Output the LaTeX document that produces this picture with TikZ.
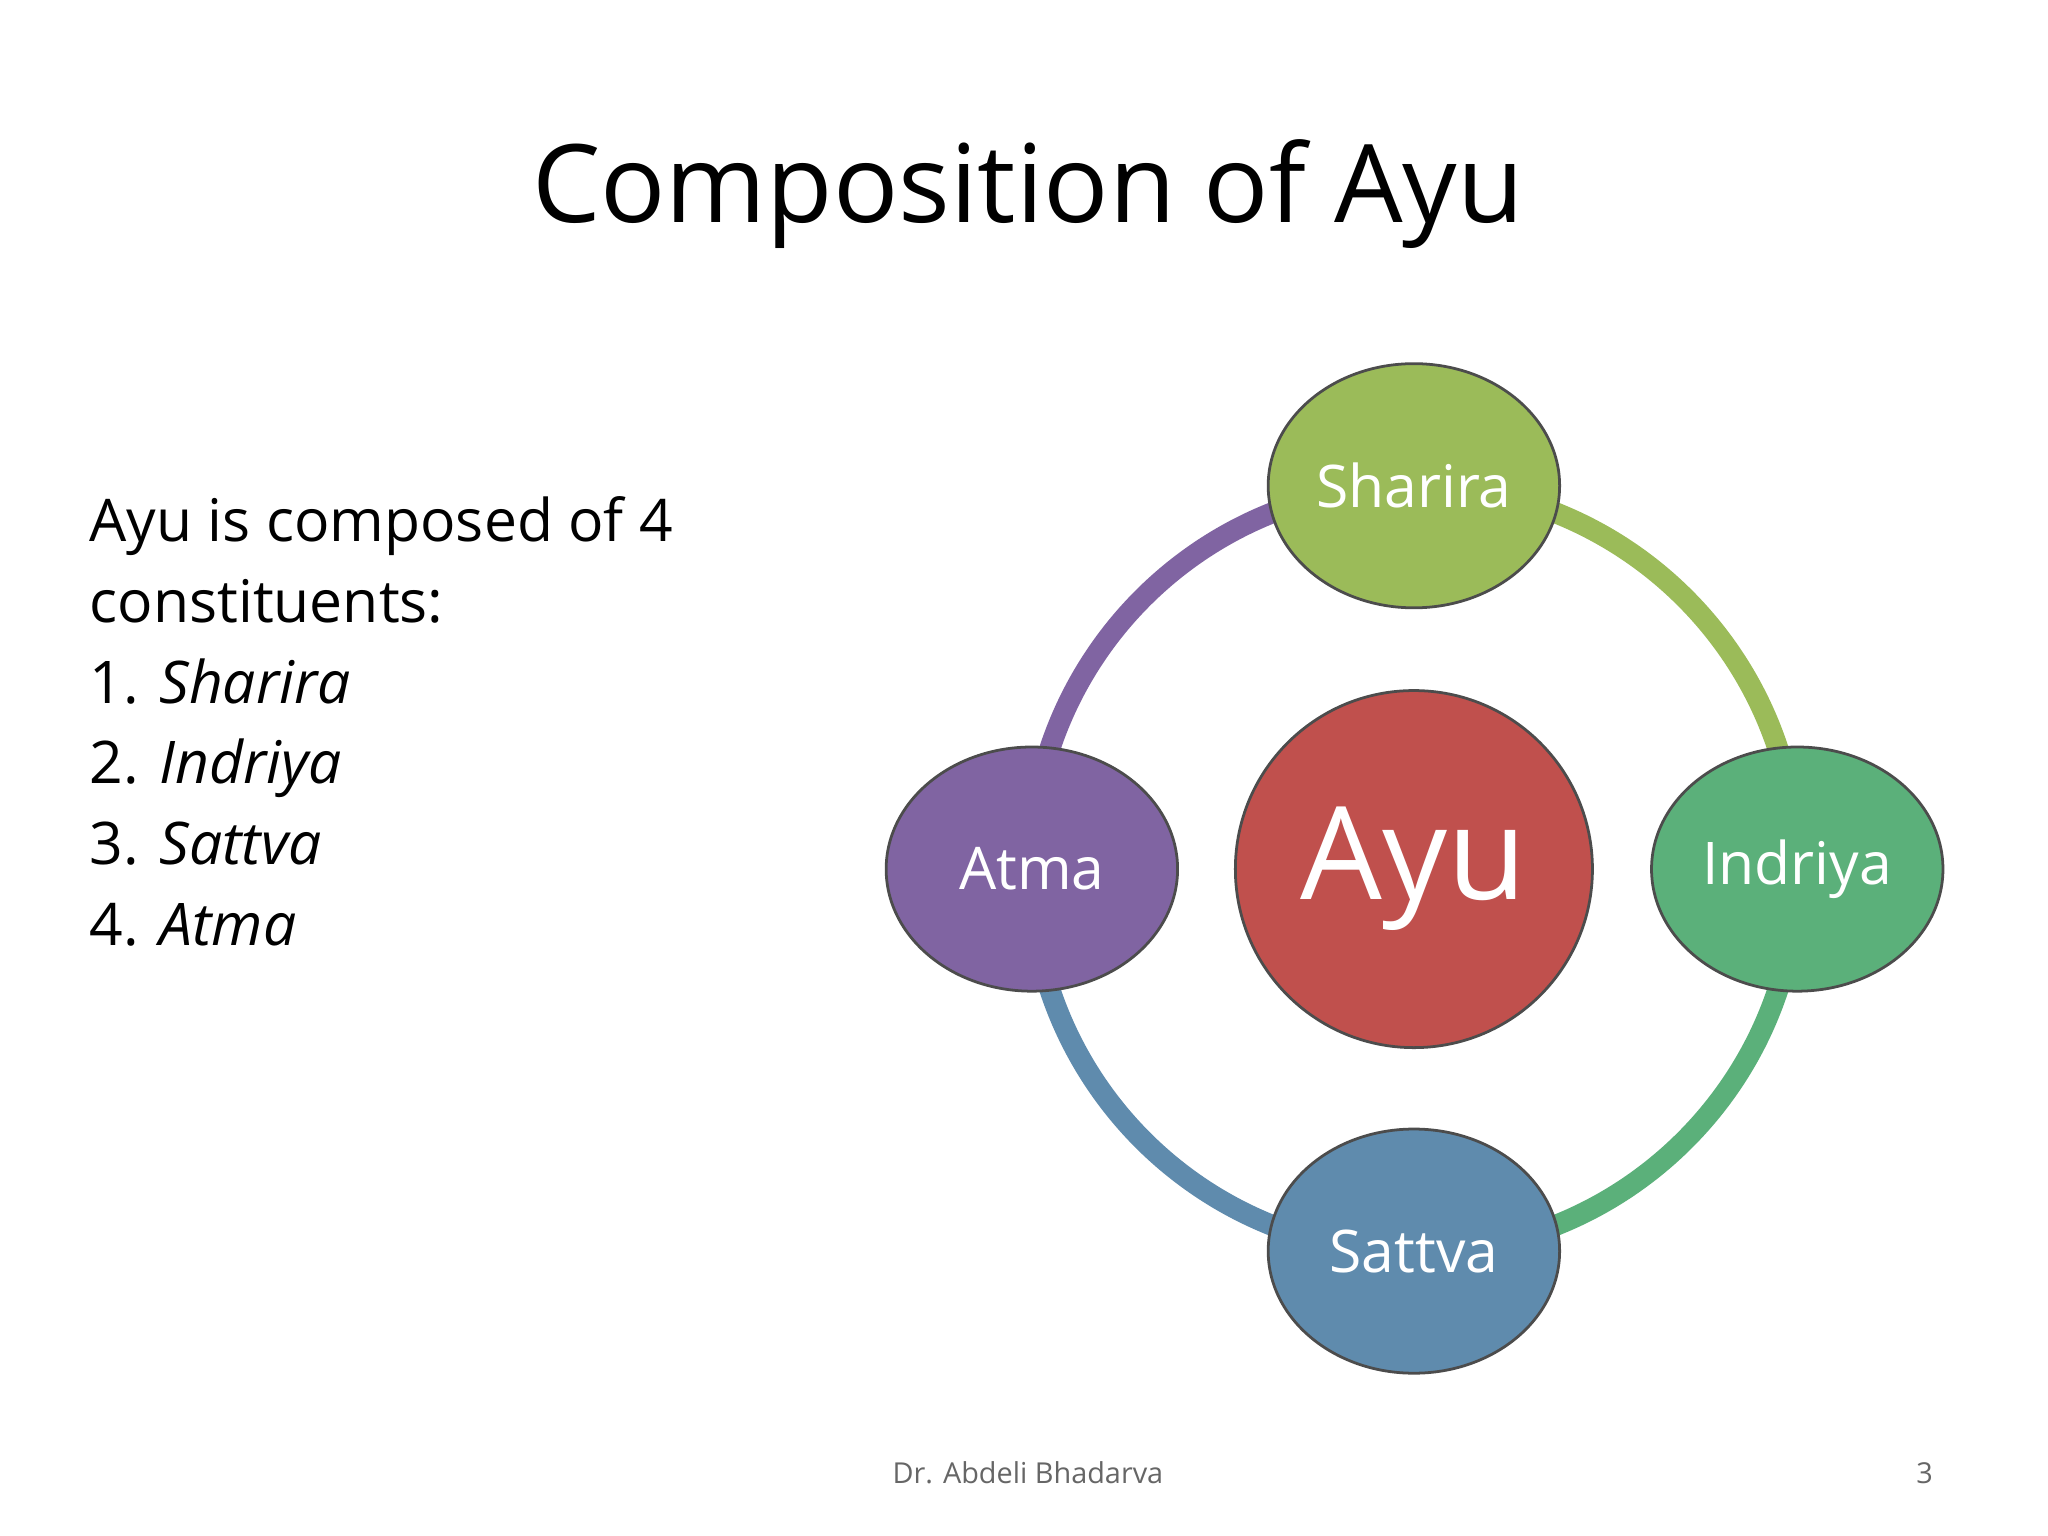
\documentclass[tikz,border=0pt]{standalone}
\usepackage{fontspec}
\setmainfont{Open Sans}
\usetikzlibrary{shapes.geometric}
\definecolor{cgreen}{HTML}{9BBB59}
\definecolor{cred}{HTML}{C0504D}
\definecolor{cteal}{HTML}{5BB07A}
\definecolor{cpurple}{HTML}{8064A2}
\definecolor{cblue}{HTML}{5F8BAD}
\begin{document}
\begin{tikzpicture}[x=0.02cm,y=-0.02cm,
  bub/.style={ellipse,draw=black!70,line width=1.2pt,minimum width=222*0.02cm,minimum height=186*0.02cm,inner sep=0pt,text=white,font=\fontsize{25.5}{30}\selectfont},
  ring/.style={line width=0.32cm}]
\useasboundingbox (0,0) rectangle (1560,1170);
\fill[white] (0,0) rectangle (1560,1170);
\node[font=\fontsize{47}{56}\selectfont] (title) at (783,148) {Composition of Ayu};
\node[anchor=north west,align=left,font=\fontsize{25.5}{35}\selectfont,inner sep=0pt] (list) at (68,378)
  {Ayu is composed of 4\\constituents:\\1. \textit{Sharira}\\2. \textit{Indriya}\\3. \textit{Sattva}\\4. \textit{Atma}};
% ring
\begin{scope}[line cap=butt]
\draw[ring,cgreen] (1077,662) ++(90:-292) arc[start angle=-90,end angle=0,radius=292];
\draw[ring,cpurple] (1077,662) ++(180:292) arc[start angle=180,end angle=270,radius=292];
\draw[ring,cteal] (1077,662) ++(0:292) arc[start angle=0,end angle=90,radius=292];
\draw[ring,cblue] (1077,662) ++(90:292) arc[start angle=90,end angle=180,radius=292];
\end{scope}
\node[bub,fill=cgreen] (sh) at (1077,370) {Sharira};
\node[bub,fill=cteal] (in) at (1369,662) {Indriya};
\node[bub,fill=cblue] (sa) at (1077,953) {Sattva};
\node[bub,fill=cpurple] (at) at (786,662) {Atma};
\node[circle,draw=black!70,line width=1.2pt,fill=cred,minimum size=272*0.02cm,inner sep=0pt,text=white,font=\fontsize{56}{64}\selectfont] (ayu) at (1077,662) {Ayu};
\node[text=black!60,font=\fontsize{12.5}{15}\selectfont] (foot) at (783,1122) {Dr. Abdeli Bhadarva};
\node[text=black!60,font=\fontsize{12.5}{15}\selectfont] (pg) at (1466,1122) {3};
\end{tikzpicture}
\end{document}
